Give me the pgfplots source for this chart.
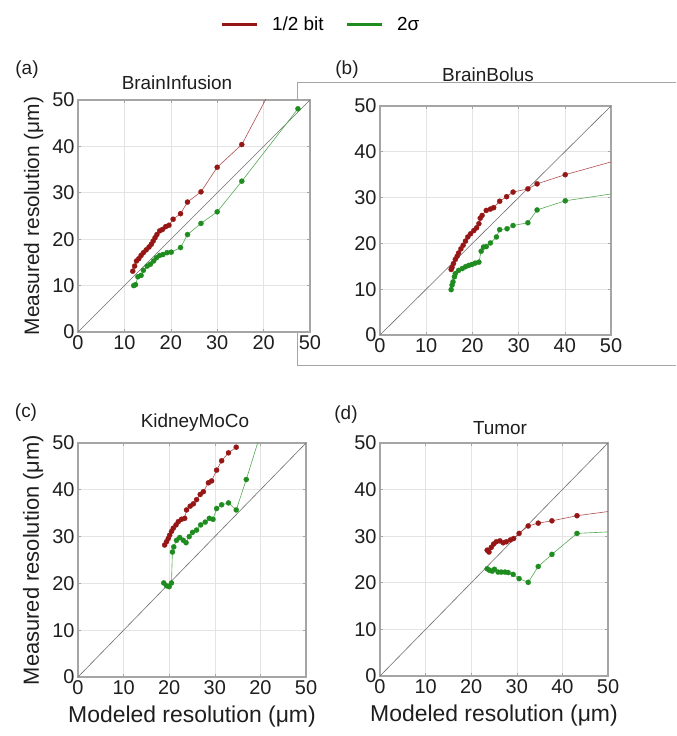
\documentclass[border=0pt]{standalone}
\usepackage{pgfplots}
\pgfplotsset{compat=1.18}
\usepackage{fontspec}
\setmainfont{Liberation Sans}
\definecolor{bitred}{RGB}{150,22,22}
\definecolor{sigmagreen}{RGB}{30,140,30}
\definecolor{framegray}{RGB}{165,165,165}
\definecolor{gridgray}{RGB}{228,228,228}
\definecolor{diaggray}{RGB}{110,110,110}
\definecolor{txt}{RGB}{30,30,30}

\pgfplotsset{
  panel/.style={
    scale only axis, anchor=south west,
    xmin=0, xmax=50, ymin=0, ymax=50,
    xtick={0,10,20,30,40,50}, ytick={0,10,20,30,40,50},
    grid=major, major grid style={gridgray, line width=0.6bp},
    axis line style={framegray, line width=1.2bp},
    tick style={framegray, line width=0.6bp}, major tick length=3bp,
    tick label style={font=\fontsize{20}{20}\selectfont, text=txt},
    /pgf/number format/assume math mode=true,
    axis background/.style={fill=white},
    label style={text=txt},
    xlabel style={font=\fontsize{23}{23}\selectfont, yshift=-4bp},
  },
  redser/.style={color=bitred!75, line width=0.6bp, mark=*, mark size=2.6bp,
    mark options={fill=bitred, draw=bitred, solid, line width=0.2bp}, forget plot},
  greenser/.style={color=sigmagreen!75, line width=0.6bp, mark=*, mark size=2.6bp,
    mark options={fill=sigmagreen, draw=sigmagreen, solid, line width=0.2bp}, forget plot},
  diag/.style={diaggray, line width=0.6bp, no marks, forget plot},
}

\begin{document}
\begin{tikzpicture}[x=1bp,y=1bp]
\path (0,0) rectangle (676,736);
\draw[framegray, line width=1bp] (676,653) -- (297,653) -- (297,370) -- (676,370);

% (a)
\begin{axis}[panel, at={(78bp,404bp)}, width=232bp, height=232bp,
  xticklabels={0,10,20,30,20,50},
  ylabel={Measured resolution (μm)},
  ylabel style={font=\fontsize{21}{21}\selectfont, yshift=2bp},
  legend style={at={(1.047,1.325)}, anchor=center, draw=none, fill=none,
    legend columns=-1, font=\fontsize{19}{19}\selectfont,
    /tikz/every odd column/.append style={column sep=12bp},
    /tikz/every even column/.append style={column sep=20bp}},
  legend image code/.code={\draw[#1, line width=2.5bp] (0,0) -- (35bp,0);},
]
\addlegendimage{bitred}
\addlegendentry{1/2 bit}
\addlegendimage{sigmagreen}
\addlegendentry{2σ}
\addplot[diag] coordinates {(0,0) (50,50)};
\addplot[redser] coordinates {
(11.8,13.1) (12.2,14.2) (12.6,15.3) (13.1,15.8) (13.6,16.5) (14.1,17.1) (14.7,17.7)
(15.3,18.3) (15.8,18.9) (16.2,19.6) (16.6,20.3) (17.0,21.0) (17.6,21.8) (18.2,22.1)
(18.9,22.7) (19.6,23.0) (20.5,24.3) (22.1,25.5) (23.6,28.0) (26.5,30.2) (30.0,35.5)
(35.3,40.4) (47.4,63.2)};
\addplot[greenser] coordinates {
(12.0,10.0) (12.4,10.2) (12.9,11.9) (13.6,12.2) (14.1,13.3) (14.9,14.2) (15.6,14.6)
(16.3,15.3) (16.9,16.0) (17.6,16.5) (18.3,16.7) (19.2,17.1) (20.1,17.2) (22.1,18.2)
(23.6,21.0) (26.5,23.4) (30.0,25.9) (35.3,32.5) (47.4,48.1)};
\end{axis}

% (b)
\begin{axis}[panel, at={(380bp,401bp)}, width=231bp, height=229bp]
\addplot[diag] coordinates {(0,0) (50,50)};
\addplot[redser] coordinates {
(15.4,14.3) (15.6,14.8) (15.9,15.6) (16.3,16.5) (16.7,17.2) (17.0,17.9) (17.5,18.8)
(18.0,19.6) (18.5,20.5) (19.0,21.4) (19.6,22.1) (20.3,22.8) (20.9,23.4) (21.4,24.3)
(21.7,25.5) (22.1,26.1) (23.0,27.2) (23.9,27.5) (24.6,27.8) (25.9,29.2) (27.4,30.2)
(28.8,31.2) (32.0,31.9) (34.0,33.0) (40.1,35.0) (60,40.6)};
\addplot[greenser] coordinates {
(15.4,9.9) (15.6,10.9) (15.8,11.6) (16.1,12.7) (16.3,13.4) (17.0,14.1) (17.8,14.5)
(18.5,14.9) (19.2,15.2) (19.9,15.4) (20.6,15.7) (21.4,15.9) (21.9,18.3) (22.4,19.2)
(23.0,19.3) (23.9,20.1) (25.2,21.4) (25.9,23.0) (27.5,23.2) (28.8,23.9) (32.0,24.5)
(34.0,27.3) (40.1,29.3) (60,32.3)};
\end{axis}

% (c)
\begin{axis}[panel, at={(78bp,59bp)}, width=228bp, height=234bp,
  xticklabels={0,10,20,30,20,50},
  ylabel={Measured resolution (μm)},
  ylabel style={font=\fontsize{22}{22}\selectfont, yshift=2bp},
  xlabel={Modeled resolution (μm)}]
\addplot[diag] coordinates {(0,0) (50,50)};
\addplot[redser] coordinates {
(19.0,28.2) (19.4,28.9) (19.8,29.6) (20.1,30.3) (20.5,31.1) (20.9,31.8) (21.5,32.5)
(22.0,33.2) (22.7,33.7) (23.4,33.9) (23.8,35.7) (24.6,36.5) (25.3,37.0) (26.0,37.9)
(26.8,39.0) (27.5,39.6) (28.6,41.5) (29.3,41.9) (30.4,44.2) (31.5,46.2) (33.0,47.9)
(34.7,49.1)};
\addplot[greenser] coordinates {
(18.8,20.1) (19.4,19.5) (20.0,19.3) (20.5,20.1) (20.7,26.7) (21.0,27.8) (21.6,29.2)
(22.3,29.8) (23.1,29.2) (23.7,28.7) (24.4,30.0) (25.1,30.9) (26.0,31.4) (26.9,32.5)
(27.9,33.1) (28.8,33.9) (29.6,33.7) (30.4,36.0) (31.5,36.8) (33.0,37.2) (34.7,35.7)
(36.9,42.2) (41.0,55.0)};
\end{axis}

% (d)
\begin{axis}[panel, at={(380bp,60bp)}, width=228bp, height=233bp,
  xlabel={Modeled resolution (μm)}]
\addplot[diag] coordinates {(0,0) (50,50)};
\addplot[redser] coordinates {
(23.5,27.0) (23.9,26.6) (24.4,27.6) (24.9,28.3) (25.5,28.8) (26.3,29.0) (27.0,28.6)
(27.7,28.8) (28.6,29.2) (29.3,29.5) (30.5,30.6) (32.5,32.2) (34.7,32.8) (37.7,33.3)
(43.2,34.4) (60,36.6)};
\addplot[greenser] coordinates {
(23.5,23.0) (24.0,22.7) (24.6,22.5) (25.1,22.9) (25.9,22.3) (26.6,22.3) (27.4,22.3)
(28.1,22.2) (29.2,21.8) (30.5,20.9) (32.5,20.1) (34.7,23.5) (37.7,26.1) (43.2,30.6)
(60,31.4)};
\end{axis}

% panel letters and titles
\node[font=\fontsize{19}{19}\selectfont, text=txt] at (27,666) {(a)};
\node[font=\fontsize{19}{19}\selectfont, text=txt] at (347,666) {(b)};
\node[font=\fontsize{19}{19}\selectfont, text=txt] at (26,323) {(c)};
\node[font=\fontsize{19}{19}\selectfont, text=txt] at (346,321) {(d)};
\node[font=\fontsize{19}{19}\selectfont, text=txt] at (177,653) {BrainInfusion};
\node[font=\fontsize{19}{19}\selectfont, text=txt] at (488,661) {BrainBolus};
\node[font=\fontsize{19}{19}\selectfont, text=txt] at (195,313) {KidneyMoCo};
\node[font=\fontsize{19}{19}\selectfont, text=txt] at (500,308) {Tumor};
\end{tikzpicture}
\end{document}
